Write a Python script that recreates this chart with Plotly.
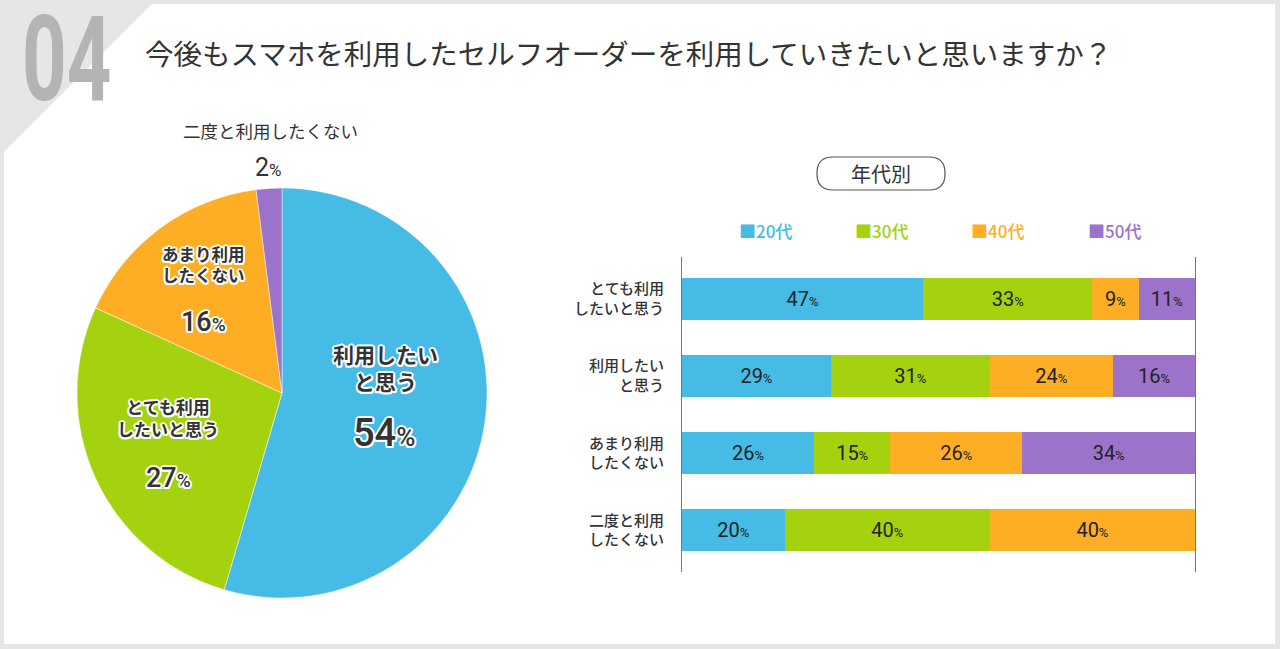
import plotly.graph_objects as go

# ---------------- data ----------------
title_text = "今後もスマホを利用したセルフオーダーを利用していきたいと思いますか？"
section_no = "04"

pie_labels = ["利用したいと思う", "とても利用したいと思う", "あまり利用したくない", "二度と利用したくない"]
pie_label_text = ["利用したい<br>と思う", "とても利用<br>したいと思う", "あまり利用<br>したくない", "二度と利用したくない"]
pie_values = [54, 27, 16, 2]
pie_colors = ["#46bbe5", "#a4d20f", "#fdae24", "#9b73cb"]

bar_categories = ["とても利用したいと思う", "利用したいと思う", "あまり利用したくない", "二度と利用したくない"]
bar_tick_labels = ["とても利用<br>したいと思う", "利用したい<br>と思う", "あまり利用<br>したくない", "二度と利用<br>したくない"]
age_groups = ["20代", "30代", "40代", "50代"]
vals_20 = [47, 29, 26, 20]
vals_30 = [33, 31, 15, 40]
vals_40 = [9, 24, 26, 40]
vals_50 = [11, 16, 34, 0]
series_vals = [vals_20, vals_30, vals_40, vals_50]
series_colors = ["#46bbe5", "#a4d20f", "#fdae24", "#9b73cb"]
box_title = "年代別"

# ---------------- helpers ----------------
W, H = 1280, 649


def px(x):
    return x / W


def py(y):
    return 1 - y / H


JP = "Noto Sans CJK JP"
NUM = "Roboto, Noto Sans"
OUTLINE = ("2px 0 0 #fff, -2px 0 0 #fff, 0 2px 0 #fff, 0 -2px 0 #fff, "
           "1.5px 1.5px 0 #fff, -1.5px -1.5px 0 #fff, 1.5px -1.5px 0 #fff, -1.5px 1.5px 0 #fff")

fig = go.Figure()

# ---------------- pie ----------------
cx, cy, r = 282, 393, 205
fig.add_trace(go.Pie(
    labels=pie_labels, values=pie_values, sort=False, direction="clockwise", rotation=0,
    marker=dict(colors=pie_colors, line=dict(color="rgba(255,255,255,0.6)", width=0.8)),
    textinfo="none", hoverinfo="label+percent", showlegend=False,
    domain=dict(x=[px(cx - r), px(cx + r)], y=[py(cy + r), py(cy - r)]),
))

# ---------------- stacked bars ----------------
for name, vals, col in zip(age_groups, series_vals, series_colors):
    fig.add_trace(go.Bar(
        y=list(range(len(bar_categories))), x=vals, name=name, orientation="h",
        marker=dict(color=col, line=dict(width=0)),
        text=[f"{v}<span style='font-size:13px'>%</span>" if v else "" for v in vals],
        textposition="inside", insidetextanchor="middle", textangle=0,
        textfont=dict(family=NUM, size=20, color="#222"),
        constraintext="none",
        xaxis="x", yaxis="y", showlegend=False,
        hovertext=bar_categories, hoverinfo="text+x",
    ))

fig.update_layout(
    width=W, height=H, margin=dict(l=0, r=0, t=0, b=0),
    paper_bgcolor="#e6e6e6", plot_bgcolor="rgba(0,0,0,0)",
    barmode="stack", barnorm="percent", bargap=0.455,
    xaxis=dict(domain=[px(682), px(1195)], range=[0, 100], showgrid=False, zeroline=False,
               showticklabels=False, showline=False, fixedrange=True),
    yaxis=dict(domain=[py(572), py(257)], range=[3.545, -0.545], showgrid=False, zeroline=False,
               tickvals=list(range(len(bar_categories))), ticktext=bar_tick_labels,
               tickfont=dict(family=JP, size=15, color="#333", weight=500),
               ticks="", ticklabelstandoff=14,
               showline=True, mirror=True, linecolor="#777", linewidth=1.2, fixedrange=True),
    showlegend=False,
)

# ---------------- background card ----------------
L, T, R, B, cut = 4, 4, 1275, 644, 148
card_path = (f"M {px(L + cut)},{py(T)} L {px(R)},{py(T)} L {px(R)},{py(B)} "
             f"L {px(L)},{py(B)} L {px(L)},{py(T + cut)} Z")
shapes = [dict(type="path", path=card_path, xref="paper", yref="paper",
               fillcolor="#ffffff", line=dict(width=0), layer="below")]

# rounded box for 年代別
bx0, by0, bx1, by1, rr = 817, 157, 945, 190, 16
rp = (f"M {px(bx0 + rr)},{py(by0)} L {px(bx1 - rr)},{py(by0)} "
      f"Q {px(bx1)},{py(by0)} {px(bx1)},{py(by0 + rr)} "
      f"L {px(bx1)},{py(by1 - rr)} Q {px(bx1)},{py(by1)} {px(bx1 - rr)},{py(by1)} "
      f"L {px(bx0 + rr)},{py(by1)} Q {px(bx0)},{py(by1)} {px(bx0)},{py(by1 - rr)} "
      f"L {px(bx0)},{py(by0 + rr)} Q {px(bx0)},{py(by0)} {px(bx0 + rr)},{py(by0)} Z")
shapes.append(dict(type="path", path=rp, xref="paper", yref="paper",
                   fillcolor="#ffffff", line=dict(color="#555", width=1.2), layer="below"))
fig.update_layout(shapes=shapes)

ann = []


def add(text, x, y, size, color="#333", family=JP, weight=400, xanchor="center", shadow=None):
    f = dict(family=family, size=size, color=color, weight=weight)
    if shadow:
        f["shadow"] = shadow
    ann.append(dict(text=text, x=px(x), y=py(y), xref="paper", yref="paper",
                    xanchor=xanchor, yanchor="middle", showarrow=False, font=f))


# section number (annotation index 0, condensed below via scaleX) and title
add(section_no, 66, 60, 118, color="#b4b4b4", family=NUM, weight=700)
add(title_text, 143, 52, 28.5, color="#333", xanchor="left")

# pie labels
add(pie_label_text[0], 385, 367, 21, weight=700, shadow=OUTLINE)
add(f"{pie_values[0]}<span style='font-size:26px'>%</span>", 384, 433, 38, family=NUM, weight=500, shadow=OUTLINE)
add(pie_label_text[1], 168, 418, 17, weight=700, shadow=OUTLINE)
add(f"{pie_values[1]}<span style='font-size:19px'>%</span>", 168, 478, 27, family=NUM, weight=500, shadow=OUTLINE)
add(pie_label_text[2], 203, 264, 16.5, weight=700, shadow=OUTLINE)
add(f"{pie_values[2]}<span style='font-size:19px'>%</span>", 203, 322, 27, family=NUM, weight=500, shadow=OUTLINE)
add(pie_label_text[3], 270, 131, 17.5, weight=400)
add(f"{pie_values[3]}<span style='font-size:17px'>%</span>", 268, 167, 25, family=NUM, weight=400)

# box title and legend
add(box_title, 881, 173, 20, color="#333")
leg_x = [765, 881, 997, 1114]
for name, col, lx in zip(age_groups, series_colors, leg_x):
    add(f"■{name}", lx, 230, 17, color=col, weight=500)

fig.update_layout(annotations=ann)

post = """
document.body.style.margin='0';
document.body.style.overflow='hidden';
var t = document.querySelector('.annotation[data-index="0"] text');
if (t) {
  var b = t.getBBox();
  var c = b.x + b.width / 2;
  t.setAttribute('transform', 'translate(' + c + ',0) scale(0.66,1) translate(' + (-c) + ',0)');
}
"""
fig.write_html("out.html", post_script=post, config={"displayModeBar": False})
